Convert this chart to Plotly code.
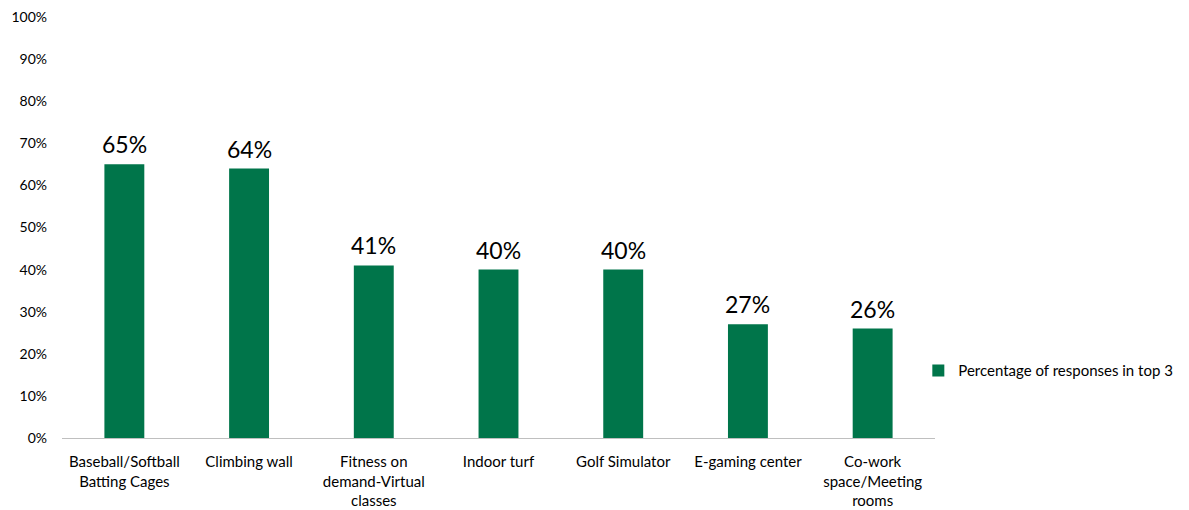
import plotly.graph_objects as go

categories = ["Baseball/Softball<br>Batting Cages", "Climbing wall", "Fitness on<br>demand-Virtual<br>classes",
              "Indoor turf", "Golf Simulator", "E-gaming center", "Co-work<br>space/Meeting<br>rooms"]
values = [65, 64, 41, 40, 40, 27, 26]
series_name = "Percentage of responses in top 3"
tick_vals = [0, 10, 20, 30, 40, 50, 60, 70, 80, 90, 100]
tick_text = [f"{v}%" for v in tick_vals]

FONT = "Lato, Open Sans, sans-serif"

fig = go.Figure()
fig.add_trace(go.Bar(
    x=categories, y=values, name=series_name,
    marker=dict(color="#00754A", line=dict(width=0)),
    cliponaxis=False, showlegend=True,
))
for c, v in zip(categories, values):
    fig.add_annotation(x=c, y=v, text=f"{v}%", showarrow=False,
                       xanchor="center", yanchor="bottom", yshift=4,
                       font=dict(size=23, color="#000000", family=FONT))
fig.update_layout(
    width=1181, height=502,
    margin=dict(l=54, r=254, t=9, b=72, autoexpand=False),
    paper_bgcolor="white", plot_bgcolor="white",
    bargap=0.68,
    font=dict(family=FONT, size=15, color="#000000"),
    showlegend=True,
    legend=dict(x=0.9809, y=0.16, xanchor="left", yanchor="middle",
                font=dict(size=15, family=FONT), itemwidth=30,
                bgcolor="rgba(0,0,0,0)"),
    xaxis=dict(showline=True, linecolor="#BFBFBF", linewidth=1, ticks="",
               ticklabelstandoff=10, automargin=False,
               tickfont=dict(size=15, family=FONT), showgrid=False, zeroline=False),
    yaxis=dict(range=[0, 100], tickvals=tick_vals, ticktext=tick_text,
               showgrid=False, zeroline=False, showline=False, ticks="",
               automargin=False, ticklabeloverflow="allow",
               ticklabelstandoff=14, tickfont=dict(size=14, family=FONT)),
)
fig.write_html("out.html")
